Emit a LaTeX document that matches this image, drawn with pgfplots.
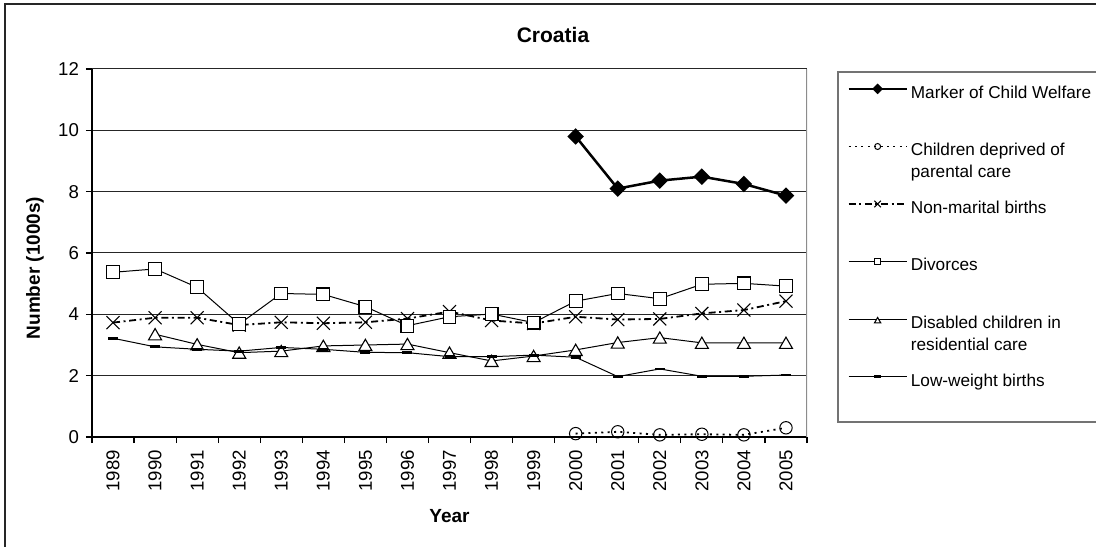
\documentclass[border=0pt]{standalone}
\usepackage{pgfplots}
\pgfplotsset{compat=1.18}
\usepackage{fontspec}
\setmainfont{Liberation Sans}
\newcommand{\LE}[1]{\rule[-5pt]{0pt}{10pt}\smash{\raisebox{-0.33em}{\parbox[t]{130pt}{#1}}}}
\begin{document}
\begin{tikzpicture}
\useasboundingbox (0,0) rectangle (548pt,273pt);
\clip (0,0) rectangle (548pt,273pt);
\draw[black!85, line width=0.6pt] (2.5pt,-5pt) rectangle (560pt,271pt);
\begin{axis}[
  at={(46pt,54.5pt)}, anchor=south west, scale only axis,
  width=357.5pt, height=184pt,
  xmin=-0.5, xmax=16.5, ymin=0, ymax=12,
  axis x line*=bottom, axis y line*=left,
  axis line style={black, line width=0.6pt},
  xtick={0,1,2,3,4,5,6,7,8,9,10,11,12,13,14,15,16},
  xticklabels={1989,1990,1991,1992,1993,1994,1995,1996,1997,1998,1999,2000,2001,2002,2003,2004,2005},
  major x tick style={draw=none},
  minor xtick={-0.5,0.5,...,16.5},
  ytick={0,2,4,6,8,10,12},
  ymajorgrids, grid style={black!85, line width=0.5pt},
  tick align=outside,
  major tick length=3pt, minor tick length=3pt,
  tick style={black, line width=0.6pt},
  /pgf/number format/assume math mode=true,
  tick label style={font=\fontsize{9.3}{11}\selectfont},
  x tick label style={rotate=90, anchor=east},
  legend cell align=left,
  legend style={at={(axis description cs:1.0559,0.9647)}, anchor=north west,
    draw=none, fill=none, inner sep=0pt, row sep=22.3pt, column sep=1.5pt,
    font=\fontsize{8.6}{11}\selectfont, nodes={inner sep=0pt}},
  legend image code/.code={\draw[mark repeat=2,mark phase=2] plot coordinates {(0pt,0pt) (14.5pt,0pt) (29pt,0pt)};},
]
% Marker of Child Welfare
\addplot[black, line width=1.25pt, mark=square*, mark size=2.3pt,
  mark options={rotate=45, solid, fill=black},
  legend image post style={mark size=1.25pt}]
  coordinates {(11,9.80) (12,8.10) (13,8.36) (14,8.49) (15,8.25) (16,7.87)};
\addlegendentry{\LE{Marker of Child Welfare}}
% Children deprived of parental care
\addplot[black, line width=0.9pt, dash pattern=on 1pt off 2.2pt, mark=o, mark size=3.1pt,
  mark options={solid, fill=white, line width=0.5pt},
  legend image post style={mark size=1.5pt}]
  coordinates {(11,0.11) (12,0.17) (13,0.07) (14,0.09) (15,0.07) (16,0.30)};
\addlegendentry{\LE{Children deprived of\\parental care}}
% Non-marital births
\addplot[black, line width=0.9pt, dash pattern=on 3.5pt off 1.8pt on 1pt off 1.8pt, mark=x, mark size=4.6pt,
  mark options={solid, line width=0.55pt},
  legend image post style={mark size=2.3pt}]
  coordinates {(0,3.73) (1,3.89) (2,3.89) (3,3.65) (4,3.74) (5,3.71) (6,3.74) (7,3.86) (8,4.09) (9,3.80) (10,3.70) (11,3.92) (12,3.83) (13,3.85) (14,4.03) (15,4.14) (16,4.43)};
\addlegendentry{\LE{Non-marital births}}
% Divorces
\addplot[black, line width=0.5pt, mark=square*, mark size=3.2pt,
  mark options={solid, fill=white, draw=black, line width=0.55pt},
  legend image post style={mark size=1.5pt}]
  coordinates {(0,5.37) (1,5.48) (2,4.88) (3,3.68) (4,4.68) (5,4.65) (6,4.25) (7,3.63) (8,3.92) (9,4.01) (10,3.73) (11,4.43) (12,4.68) (13,4.51) (14,4.98) (15,5.01) (16,4.92)};
\addlegendentry{\LE{Divorces}}
% Disabled children in residential care
\addplot[black, line width=0.5pt, mark=triangle*, mark size=3.75pt,
  mark options={solid, fill=white, draw=black, line width=0.55pt, yshift=-0.9pt},
  legend image post style={mark size=1.8pt}]
  coordinates {(1,3.35) (2,3.02) (3,2.75) (4,2.80) (5,2.97) (6,3.00) (7,3.03) (8,2.75) (9,2.48) (10,2.64) (11,2.84) (12,3.08) (13,3.24) (14,3.07) (15,3.07) (16,3.07)};
\addlegendentry{\LE{Disabled children in\\residential care}}
% Low-weight births
\addplot[black, line width=0.5pt, mark=-, mark size=2.5pt,
  mark options={solid, line width=1.4pt},
  legend image post style={mark size=1.6pt}]
  coordinates {(0,3.22) (1,2.94) (2,2.86) (3,2.80) (4,2.92) (5,2.86) (6,2.76) (7,2.75) (8,2.62) (9,2.62) (10,2.67) (11,2.60) (12,1.97) (13,2.22) (14,1.98) (15,1.98) (16,2.02)};
\addlegendentry{\LE{Low-weight births}}
\draw[black!45, line width=0.6pt] (rel axis cs:1,0) -- (rel axis cs:1,1);
\end{axis}
\draw[black!55, line width=0.6pt] (419pt,62pt) rectangle (556pt,237pt);
\node[font=\bfseries\fontsize{10.5}{12}\selectfont] at (276.5pt,255.5pt) {Croatia};
\node[font=\bfseries\fontsize{9.5}{11}\selectfont, rotate=90] at (17.5pt,139pt) {Number (1000s)};
\node[font=\bfseries\fontsize{9.5}{11}\selectfont] at (224.75pt,14.75pt) {Year};
\end{tikzpicture}
\end{document}
